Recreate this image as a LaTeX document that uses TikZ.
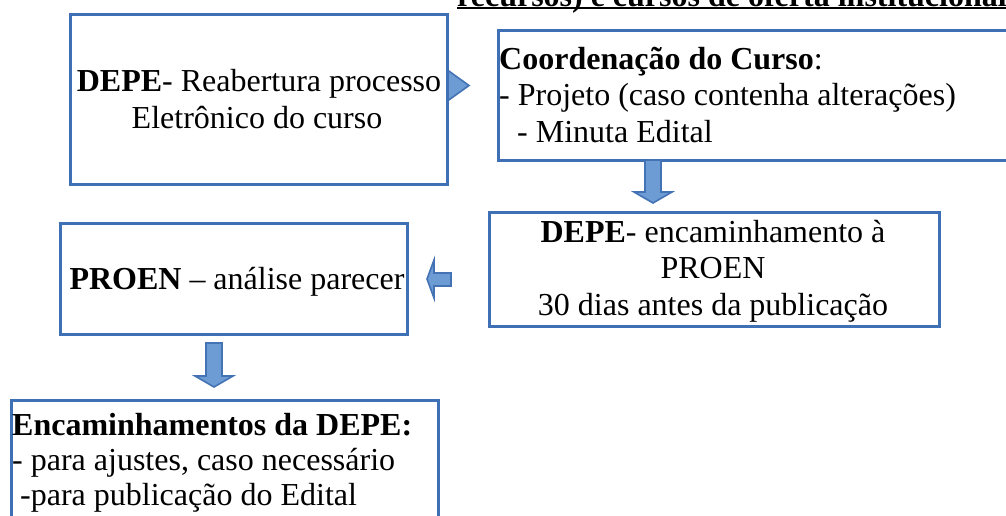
\documentclass[tikz,border=0pt]{standalone}
\usepackage{fontspec}
\setmainfont{Liberation Serif}
\usetikzlibrary{calc}
\definecolor{boxblue}{HTML}{3F70B5}
\definecolor{arrfill}{HTML}{6D9BD3}
\definecolor{arrline}{HTML}{4473B5}
\begin{document}
\begin{tikzpicture}[x=1pt,y=-1pt,
  box/.style={draw=boxblue, line width=2.5pt, fill=white, rectangle, inner sep=0pt, anchor=north west},
  txt/.style={inner sep=0pt, font=\fontsize{32}{37}\selectfont},
  blockarrow/.style={fill=arrfill, draw=arrline, line width=1.6pt, line join=miter}]
\useasboundingbox (0,0) rectangle (1006,515);
% title (cut off at top, as in the reference)
\node[txt, anchor=base west, font=\fontsize{32}{37}\selectfont\bfseries] (title) at (457,6) {recursos) e cursos de oferta institucional};
\draw[line width=2.5pt] ($(title.base west)+(0,2)$) -- ($(title.base east)+(0,2)$);
% arrow from box 1 to box 2 (shaft hidden behind box 1)
\draw[blockarrow] (420,78) -- (446,78) -- (446,69) -- (469,85.5) -- (446,102) -- (446,93) -- (420,93) -- cycle;
% boxes
\node[box, minimum width=377pt, minimum height=170pt] (b1) at (69,13) {};
\node[box, minimum width=523pt, minimum height=130pt] (b2) at (497,29) {};
\node[box, minimum width=450pt, minimum height=114pt] (b3) at (488,211) {};
\node[box, minimum width=347pt, minimum height=111pt] (b4) at (59,222) {};
\node[box, minimum width=427pt, minimum height=135pt] (b5) at (10,399) {};
% block arrows
\draw[blockarrow] (645,160) -- (661,160) -- (661,192) -- (672,192) -- (653,203) -- (634,192) -- (645,192) -- cycle;
\draw[blockarrow] (451,273) -- (451,286) -- (434,286) -- (434,298) -- (427,279) -- (434,260) -- (434,273) -- cycle;
\draw[blockarrow] (206,343) -- (222,343) -- (222,376) -- (233,376) -- (214,387) -- (195,376) -- (206,376) -- cycle;
% texts
\node[txt, anchor=base] (t1a) at (259,91) {\textbf{DEPE}- Reabertura processo};
\node[txt, anchor=base] (t1b) at (257,128) {Eletrônico do curso};
\node[txt, anchor=base west] (t2a) at (499,69) {\textbf{Coordenação do Curso}:};
\node[txt, anchor=base west] (t2b) at (499,105) {- Projeto (caso contenha alterações)};
\node[txt, anchor=base west] (t2c) at (517,142) {- Minuta Edital};
\node[txt, anchor=base] (t3a) at (713,242) {\textbf{DEPE}- encaminhamento à};
\node[txt, anchor=base] (t3b) at (713,278) {PROEN};
\node[txt, anchor=base] (t3c) at (713,315) {30 dias antes da publicação};
\node[txt, anchor=base] (t4) at (237,289) {\textbf{PROEN} – análise parecer};
\node[txt, anchor=base west] (t5a) at (12,435) {\textbf{Encaminhamentos da DEPE:}};
\node[txt, anchor=base west] (t5b) at (12,470) {- para ajustes, caso necessário};
\node[txt, anchor=base west] (t5c) at (20,505) {-para publicação do Edital};
\end{tikzpicture}
\end{document}
